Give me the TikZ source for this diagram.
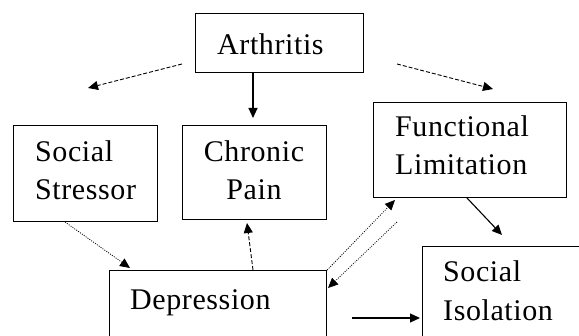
\documentclass[tikz,border=0pt]{standalone}
\usepackage{fontspec}
\setmainfont{Liberation Serif}[LetterSpace=2]
\usetikzlibrary{arrows.meta}
\begin{document}
\begin{tikzpicture}[x=1pt,y=-1pt,
  box/.style={draw,line width=1.2pt,inner sep=0pt,anchor=north west},
  lbl/.style={anchor=base west,inner sep=0pt,font=\fontsize{30}{38}\selectfont},
  clbl/.style={lbl,anchor=base},
  arr/.style={-{Triangle[length=10pt,width=9pt]},line width=1.1pt},
  dsh/.style={arr,line width=0.9pt,dash pattern=on 4pt off 2pt},
  dts/.style={arr,line width=0.8pt,dash pattern=on 1pt off 1.3pt},
]
\useasboundingbox (0,0) rectangle (579,336);
\clip (0,0) rectangle (579,336);
% boxes
\node[box,minimum width=168pt,minimum height=59pt] (arth) at (195,13) {};
\node[box,minimum width=144pt,minimum height=96pt] (stress) at (13,125) {};
\node[box,minimum width=144pt,minimum height=94pt] (pain) at (182,125) {};
\node[box,minimum width=193pt,minimum height=95pt] (func) at (373,102) {};
\node[box,minimum width=217pt,minimum height=90pt] (dep) at (109,270) {};
\node[box,minimum width=180pt,minimum height=110pt] (iso) at (422,246) {};
% labels
\node[lbl] (arthT) at (217,55) {Arthritis};
\node[lbl] (stressT1) at (35,162) {Social};
\node[lbl] (stressT2) at (35,200) {Stressor};
\node[clbl] (painT1) at (254,162) {Chronic};
\node[clbl] (painT2) at (254,200) {Pain};
\node[lbl] (funcT1) at (395,137) {Functional};
\node[lbl] (funcT2) at (395,175) {Limitation};
\node[lbl] (depT) at (130,310) {Depression};
\node[lbl] (isoT1) at (443,282) {Social};
\node[lbl] (isoT2) at (443,321) {Isolation};
% connector end points
\coordinate (a1s) at (182,64);  \coordinate (a1e) at (88,88);
\coordinate (a2s) at (253,72);  \coordinate (a2e) at (253,118);
\coordinate (a3s) at (397,64);  \coordinate (a3e) at (493,89);
\coordinate (a4s) at (65,222);  \coordinate (a4e) at (130,268);
\coordinate (a5s) at (253,270); \coordinate (a5e) at (247,223);
\coordinate (a7s) at (397,222); \coordinate (a7e) at (328,288);
\coordinate (a8s) at (467,198); \coordinate (a8e) at (502,235);
\coordinate (a9s) at (352,318); \coordinate (a9e) at (420,318);
\coordinate (a6e) at (395,200);
% connectors
\draw[dsh] (a1s) -- (a1e);
\draw[arr] (a2s) -- (a2e);
\draw[dsh] (a3s) -- (a3e);
\draw[dts] (a4s) -- (a4e);
\draw[dsh] (a5s) -- (a5e);
\draw[dts] (dep.north east) -- (a6e);
\draw[dts] (a7s) -- (a7e);
\draw[arr] (a8s) -- (a8e);
\draw[arr] (a9s) -- (a9e);
\end{tikzpicture}
\end{document}
